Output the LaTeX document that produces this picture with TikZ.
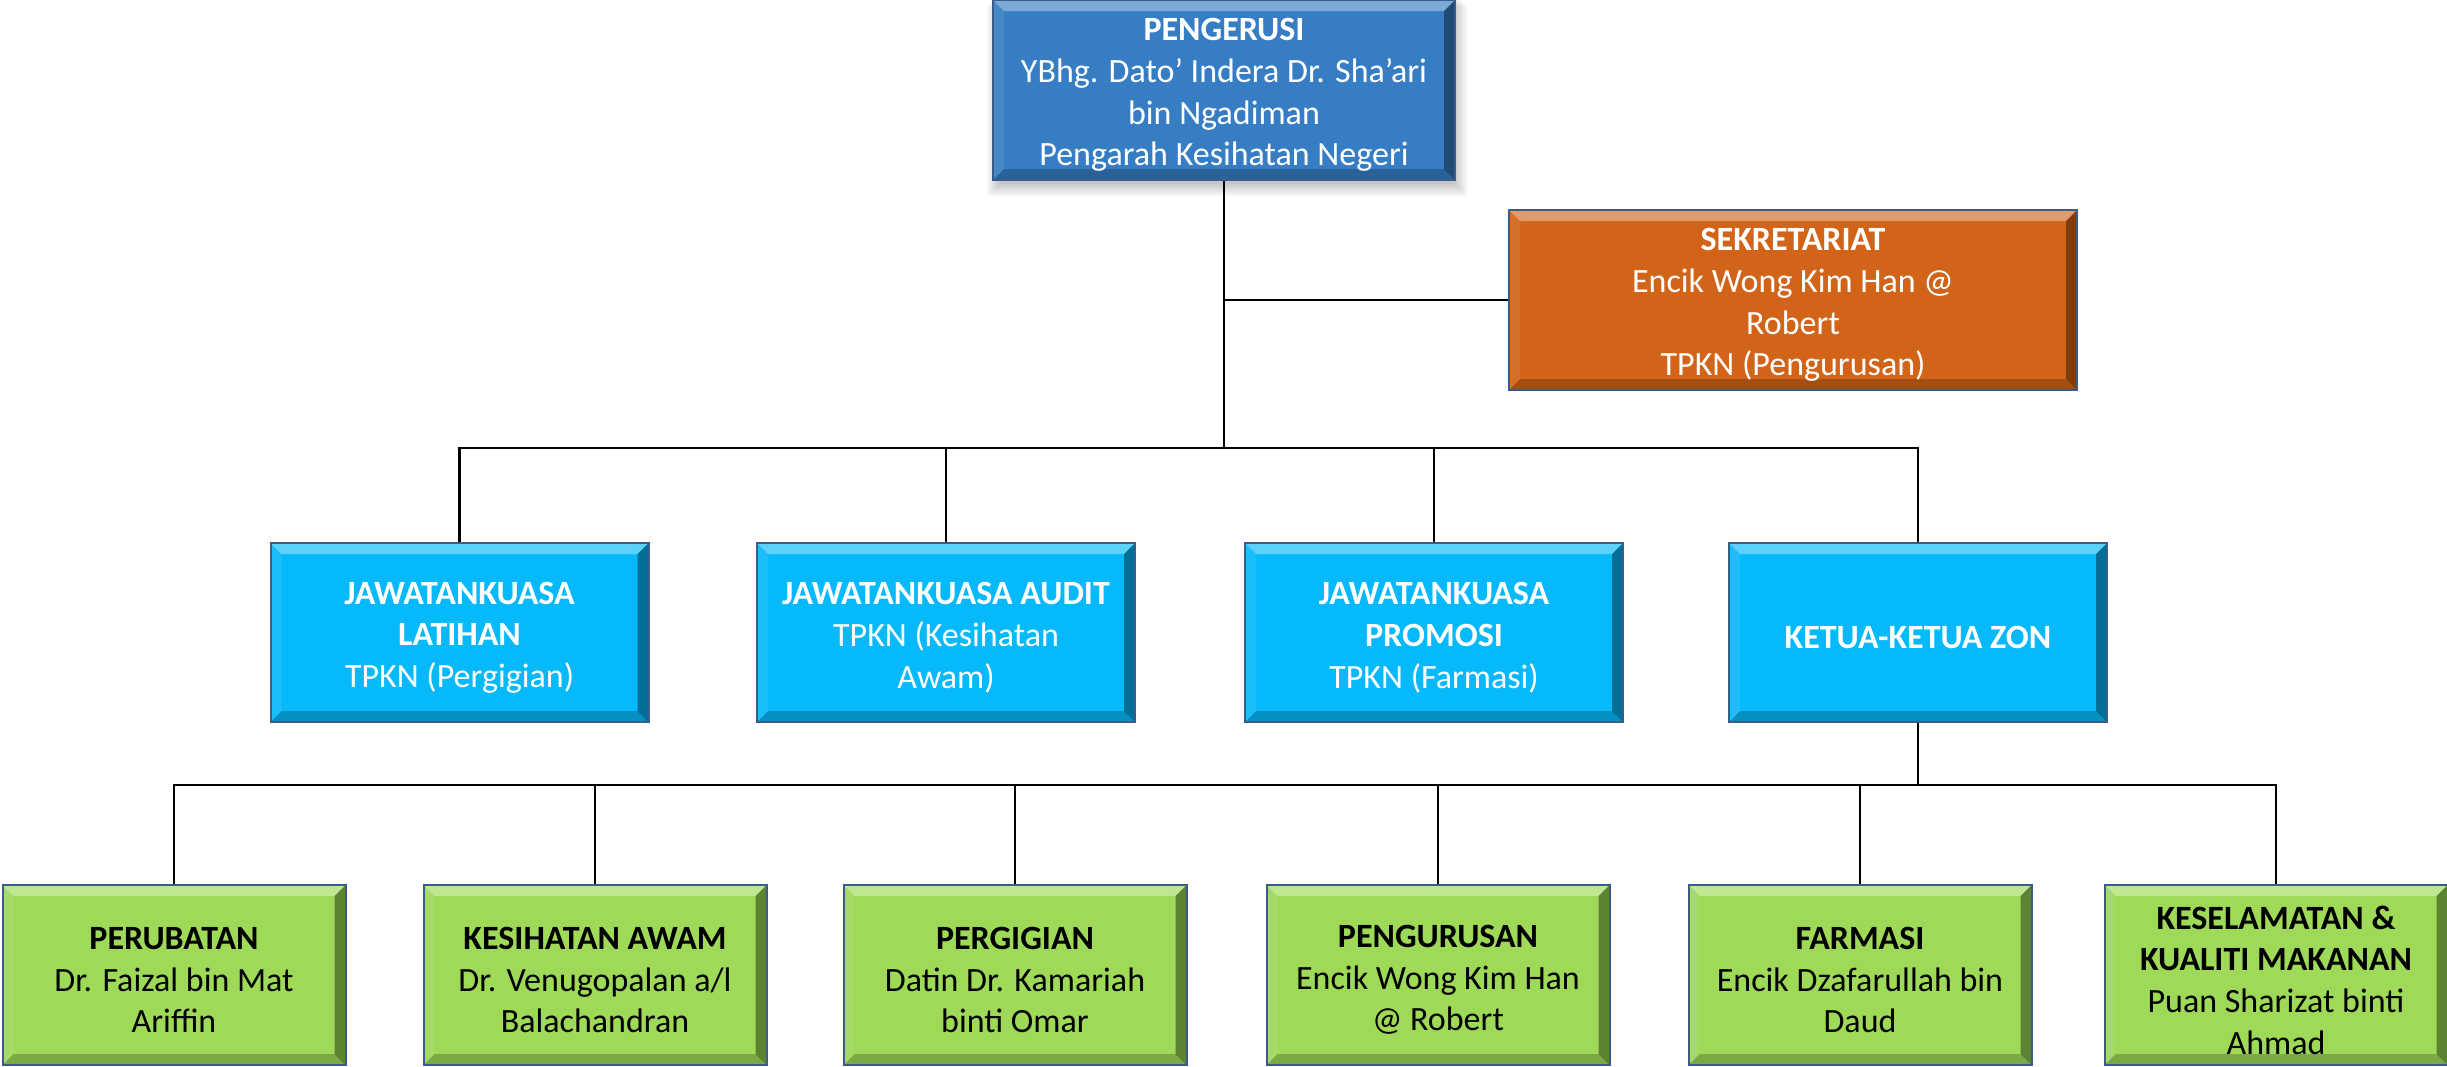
\documentclass[tikz,border=0pt]{standalone}
\usepackage{fontspec}
\setmainfont{Carlito}
\usetikzlibrary{backgrounds}
\definecolor{cTop}{HTML}{377DC3}
\definecolor{cSek}{HTML}{D26419}
\definecolor{cCyan}{HTML}{06B9FA}
\definecolor{cGreen}{HTML}{9ED957}
\definecolor{cEdge}{HTML}{3B5C88}
\tikzset{
  bev/.style={path picture={
    \coordinate (pnw) at (path picture bounding box.north west);
    \coordinate (pne) at (path picture bounding box.north east);
    \coordinate (psw) at (path picture bounding box.south west);
    \coordinate (pse) at (path picture bounding box.south east);
    \fill[white,opacity=.35] (pnw) -- (pne) -- ([shift={(-11pt,-11pt)}]pne) -- ([shift={(11pt,-11pt)}]pnw) -- cycle;
    \fill[black,opacity=.4] (pne) -- (pse) -- ([shift={(-11pt,11pt)}]pse) -- ([shift={(-11pt,-11pt)}]pne) -- cycle;
    \fill[black,opacity=.22] (psw) -- (pse) -- ([shift={(-11pt,11pt)}]pse) -- ([shift={(11pt,11pt)}]psw) -- cycle;
    \fill[white,opacity=.08] (pnw) -- (psw) -- ([shift={(11pt,11pt)}]psw) -- ([shift={(11pt,-11pt)}]pnw) -- cycle;
  }},
  orgbox/.style={draw=cEdge, line width=2pt, bev, inner sep=0pt},
  topbox/.style={orgbox, fill=cTop, minimum width=462pt, minimum height=180pt},
  sekbox/.style={orgbox, fill=cSek, minimum width=568pt, minimum height=180pt},
  midbox/.style={orgbox, fill=cCyan, minimum width=378pt, minimum height=179pt},
  lowbox/.style={orgbox, fill=cGreen, minimum width=343pt, minimum height=180pt},
  boxtext/.style={align=center, inner sep=0pt, yshift=-5pt,
    font=\fontsize{34}{41.7}\selectfont},
  wtext/.style={boxtext, text=white},
  ktext/.style={boxtext, text=black},
  conn/.style={draw=black, line width=2.6pt}
}
\begin{document}
\begin{tikzpicture}[x=1pt,y=-1pt]
\useasboundingbox (0,0) rectangle (2447,1066);
\coordinate (b2) at (0,448);
\coordinate (b3) at (0,785);

% boxes
\node[topbox] (top) at (1224,90) {};
\node[sekbox] (sek) at (1793,300) {};
\node[midbox] (m1) at (459.5,632.5) {};
\node[midbox] (m2) at (946,632.5) {};
\node[midbox] (m3) at (1434,632.5) {};
\node[midbox] (m4) at (1918,632.5) {};
\node[lowbox] (l1) at (174,975) {};
\node[lowbox] (l2) at (595,975) {};
\node[lowbox] (l3) at (1015,975) {};
\node[lowbox] (l4) at (1438,975) {};
\node[lowbox] (l5) at (1860,975) {};
\node[lowbox] (l6) at (2276,975) {};

% texts
\node[wtext] (topt) at (top) {\textbf{PENGERUSI}\\YBhg. Dato’ Indera Dr. Sha’ari\\bin Ngadiman\\Pengarah Kesihatan Negeri};
\node[wtext] (sekt) at (sek) {\textbf{SEKRETARIAT}\\Encik Wong Kim Han @\\Robert\\TPKN (Pengurusan)};
\node[wtext] (m1t) at (m1) {\textbf{JAWATANKUASA}\\\textbf{LATIHAN}\\TPKN (Pergigian)};
\node[wtext] (m2t) at (m2) {\textbf{JAWATANKUASA AUDIT}\\TPKN (Kesihatan\\Awam)};
\node[wtext] (m3t) at (m3) {\textbf{JAWATANKUASA}\\\textbf{PROMOSI}\\TPKN (Farmasi)};
\node[wtext] (m4t) at (m4) {\textbf{KETUA-KETUA ZON}};
\node[ktext] (l1t) at (l1) {\textbf{PERUBATAN}\\Dr. Faizal bin Mat\\Ariffin};
\node[ktext] (l2t) at (l2) {\textbf{KESIHATAN AWAM}\\Dr. Venugopalan a/l\\Balachandran};
\node[ktext] (l3t) at (l3) {\textbf{PERGIGIAN}\\Datin Dr. Kamariah\\binti Omar};
\node[ktext] (l4t) at (l4) {\textbf{PENGURUSAN}\\Encik Wong Kim Han\\@ Robert};
\node[ktext] (l5t) at (l5) {\textbf{FARMASI}\\Encik Dzafarullah bin\\Daud};
\node[ktext] (l6t) at (l6) {\textbf{KESELAMATAN \&}\\\textbf{KUALITI MAKANAN}\\Puan Sharizat binti\\Ahmad};

% soft shadow under the top box
\begin{scope}[on background layer]
\foreach \r in {1,3,...,13}
  \fill[black,opacity=.035] ([shift={(-\r pt+8pt,-\r pt+6pt)}]top.north west) rectangle ([shift={(\r pt-2pt,-\r pt-2pt)}]top.south east);
\end{scope}

% connectors
\draw[conn] (top.south) -- (top.south |- b2);
\draw[conn] (sek.west) -- (top.south |- sek.west);
\draw[conn, line cap=rect] (m1.north |- b2) -- (m4.north |- b2);
\foreach \n in {m1,m2,m3,m4} \draw[conn] (\n.north) -- (\n.north |- b2);
\draw[conn] (m4.south) -- (m4.south |- b3);
\draw[conn, line cap=rect] (l1.north |- b3) -- (l6.north |- b3);
\foreach \n in {l1,l2,l3,l4,l5,l6} \draw[conn] (\n.north) -- (\n.north |- b3);
\end{tikzpicture}
\end{document}
